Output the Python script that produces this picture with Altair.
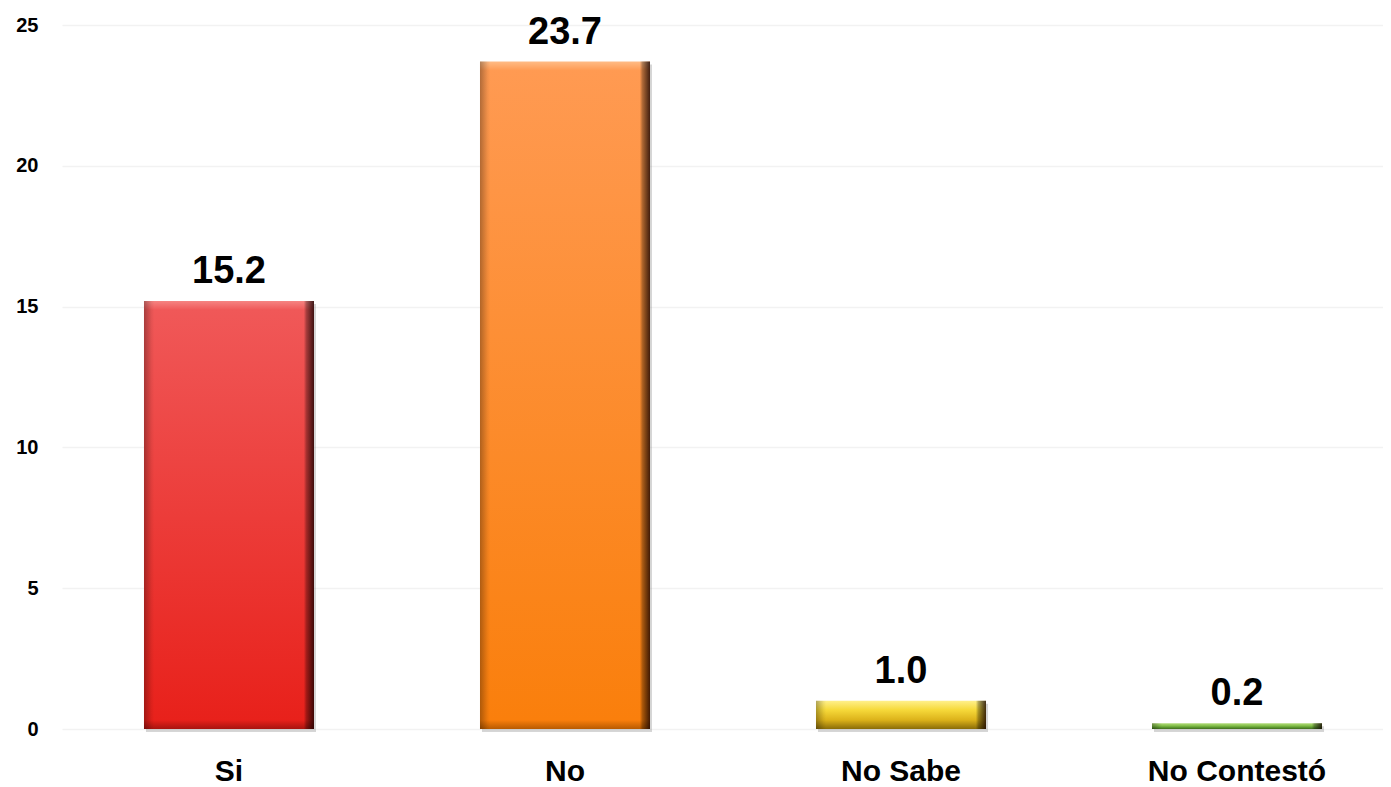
import altair as alt
import pandas as pd

categories = ["Si", "No", "No Sabe", "No Contestó"]
values = [15.2, 23.7, 1.0, 0.2]
y_ticks = [0, 5, 10, 15, 20, 25]

# style: (top bevel, body top, body bottom, bottom bevel)
palettes = [
    ("#f58482", "#f05858", "#e8211b", "#a8140f"),
    ("#ffbb85", "#ff9a52", "#fa7f0c", "#b85a00"),
    ("#fff08a", "#f6d93a", "#dcb21a", "#8a6c08"),
    ("#b0da78", "#86c04c", "#6aa838", "#3f6c1c"),
]

PLOT_W, PLOT_H = 1321, 704
PX = PLOT_H / 25.0
FONT = "Liberation Sans"

df = pd.DataFrame({"cat": categories, "val": values})

x_enc = alt.X(
    "cat:N",
    sort=categories,
    scale=alt.Scale(range=[0, 1342], paddingInner=0.494, paddingOuter=0.244),
    axis=alt.Axis(
        title=None, labelAngle=0, domain=False, ticks=False, tickSize=0,
        labelFont=FONT, labelFontSize=30, labelFontWeight="bold", labelColor="black",
        labelPadding=51, labelBaseline="alphabetic",
    ),
)
y_enc = alt.Y(
    "val:Q",
    scale=alt.Scale(domain=[0, 25], nice=False),
    axis=alt.Axis(
        title=None, values=y_ticks, grid=True, gridColor="#f2f2f2", gridWidth=1.5,
        domain=False, ticks=False, tickSize=0, labelPadding=24,
        labelFont=FONT, labelFontSize=20, labelFontWeight="bold", labelColor="black",
    ),
)

base = alt.Chart(df)
layers = []

# soft shadow
layers.append(
    base.mark_bar(color="#8a8a8a", opacity=0.35, xOffset=2, yOffset=3).encode(x=x_enc, y=y_enc)
)

overlay = alt.Gradient(
    gradient="linear", x1=0, x2=1, y1=0, y2=0,
    stops=[
        alt.GradientStop(color="rgba(0,0,0,0.30)", offset=0),
        alt.GradientStop(color="rgba(0,0,0,0.05)", offset=0.045),
        alt.GradientStop(color="rgba(0,0,0,0)", offset=0.06),
        alt.GradientStop(color="rgba(0,0,0,0)", offset=0.94),
        alt.GradientStop(color="rgba(0,0,0,0.30)", offset=0.955),
        alt.GradientStop(color="rgba(20,0,0,0.80)", offset=1),
    ],
)

for cat, val, pal in zip(categories, values, palettes):
    f = min(0.4, 9.0 / (val * PX))
    grad = alt.Gradient(
        gradient="linear", x1=0, x2=0, y1=0, y2=1,
        stops=[
            alt.GradientStop(color=pal[0], offset=0),
            alt.GradientStop(color=pal[1], offset=f),
            alt.GradientStop(color=pal[2], offset=1 - f),
            alt.GradientStop(color=pal[3], offset=1),
        ],
    )
    sub = base.transform_filter(alt.datum.cat == cat)
    layers.append(sub.mark_bar(color=grad).encode(x=x_enc, y=y_enc))
    layers.append(sub.mark_bar(color=overlay).encode(x=x_enc, y=y_enc))

layers.append(
    base.mark_text(
        font=FONT, fontSize=38, fontWeight="bold", color="black",
        baseline="alphabetic", dy=-18,
    ).encode(x=x_enc, y=y_enc, text=alt.Text("val:Q", format=".1f"))
)

chart = (
    alt.layer(*layers)
    .properties(
        width=PLOT_W, height=PLOT_H,
        autosize=alt.AutoSizeParams(type="none"),
        padding={"left": 54, "top": 17, "right": 0, "bottom": 56},
        background="white",
    )
    .configure_view(stroke=None)
)

chart.save("out.html", embed_options={"renderer": "svg", "actions": False})
